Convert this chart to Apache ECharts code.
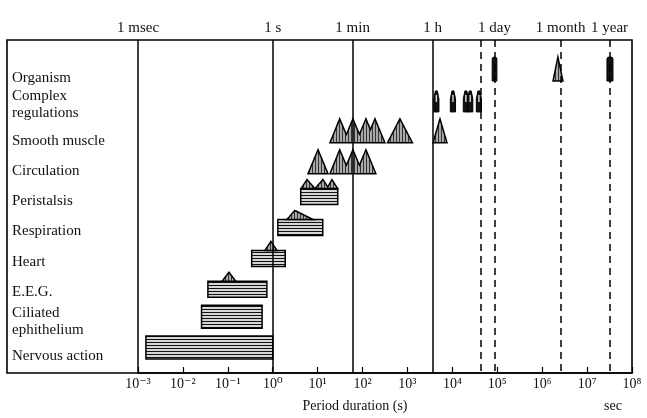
<!DOCTYPE html>
<html>
<head>
<meta charset="utf-8">
<script src="https://cdn.jsdelivr.net/npm/echarts@6/dist/echarts.min.js"></script>
<style>
  html, body { margin: 0; padding: 0; background: #fff; }
  #chart { width: 647px; height: 418px; }
</style>
</head>
<body>
<div id="chart"></div>
<script>
// row labels, top to bottom (row index 0..9)
const labelLines = ['Organism', 'Complex', 'regulations', 'Smooth muscle', 'Circulation', 'Peristalsis',
  'Respiration', 'Heart', 'E.E.G.', 'Ciliated', 'ephithelium', 'Nervous action'];

// period durations in seconds
// striped bands: [from, to, row]
const bands = [
  [4.2, 28, 4],        // peristalsis
  [1.3, 13, 5],        // respiration
  [0.34, 1.9, 6],      // heart
  [0.036, 0.74, 7],    // E.E.G.
  [0.026, 0.58, 8],    // ciliated ephithelium
  [0.0015, 1.0, 9]     // nervous action
];
// small peaks sitting on the bands: [from, peak, to, row]
const bandPeaks = [
  [4.25, 5.8, 8.7, 4], [8.7, 13.1, 17.8, 4], [16.1, 20.8, 28, 4],
  [2.07, 3.1, 7.9, 5],
  [0.67, 0.91, 1.24, 6],
  [0.074, 0.106, 0.151, 7]
];
// triangles: [from, peak, to, row]
const triangles = [
  [1.74e6, 2.24e6, 2.9e6, 0],
  [18.8, 31, 52, 2], [36.6, 61, 102, 2], [71, 119, 198, 2], [113, 189, 315, 2],
  [359, 680, 1290, 2], [3700, 5300, 7600, 2],
  [6.1, 10.2, 17, 3], [18.8, 31, 52, 3], [36.6, 61, 102, 3], [71, 119, 198, 3]
];
// narrow spikes (complex regulations): [period, row]
const spikes = [[4400, 1], [10300, 1], [20000, 1], [25000, 1], [39000, 1]];
// solid blocks (organism): [from, to, row]
const blocks = [[7.7e4, 9.8e4, 0], [2.77e7, 3.77e7, 0]];

// reference periods
const refNames = ['1 msec', '1 s', '1 min', '1 h', '', '1 day', '1 month', '1 year'];
const refTimes = [1e-3, 1, 60, 3600, 43200, 86400, 2.592e6, 3.156e7];

const tickLabels = ['10⁻³', '10⁻²', '10⁻¹', '10⁰', '10¹', '10²', '10³', '10⁴', '10⁵', '10⁶', '10⁷', '10⁸'];

const lg = Math.log10;
const SERIF = '"Liberation Serif", "DejaVu Serif", serif';

function stripes(horizontal, bg, fg, step) {
  const c = document.createElement('canvas');
  c.width = step; c.height = step;
  const g = c.getContext('2d');
  g.fillStyle = bg; g.fillRect(0, 0, step, step);
  g.fillStyle = fg;
  if (horizontal) g.fillRect(0, 0, step, 1); else g.fillRect(0, 0, 1, step);
  return { image: c, repeat: 'repeat' };
}
const bandFill = stripes(true, '#d6d6d6', '#111', 3);
const triFill = stripes(false, '#a8a8a8', '#333', 3);

// upper outline of overlapping triangles, split into separate runs
function envelope(list, api, baseY, h) {
  const t = list.map(d => [api.coord([lg(d[0]), 0])[0], api.coord([lg(d[1]), 0])[0], api.coord([lg(d[2]), 0])[0]])
    .sort((u, v) => u[0] - v[0]);
  const runs = [];
  t.forEach(s => {
    const last = runs[runs.length - 1];
    if (last && s[0] <= last.end + 0.5) { last.items.push(s); last.end = Math.max(last.end, s[2]); }
    else runs.push({ start: s[0], end: s[2], items: [s] });
  });
  return runs.map(run => {
    const xs = [];
    for (let x = run.start; x <= run.end; x += 0.5) xs.push(x);
    run.items.forEach(s => xs.push(s[0], s[1], s[2]));
    xs.sort((a, b) => a - b);
    const pts = [[run.start, baseY]];
    xs.forEach(x => {
      let y = 0;
      run.items.forEach(s => {
        if (x >= s[0] && x <= s[1]) y = Math.max(y, (x - s[0]) / Math.max(s[1] - s[0], 0.01) * h);
        else if (x > s[1] && x <= s[2]) y = Math.max(y, (s[2] - x) / Math.max(s[2] - s[1], 0.01) * h);
      });
      pts.push([x, baseY - y]);
    });
    pts.push([run.end, baseY]);
    return pts;
  });
}

function groupRenderer(list, baseOffset, h) {
  return (params, api) => {
    const row = api.value(3);
    if (list.findIndex(d => d[3] === row) !== params.dataIndex) return;
    const cy = api.coord([0, row])[1];
    const polys = envelope(list.filter(d => d[3] === row), api, cy + baseOffset, h);
    return {
      type: 'group',
      children: polys.map(pts => ({
        type: 'polygon', shape: { points: pts },
        style: { fill: triFill, stroke: '#000', lineWidth: 1.5, lineJoin: 'miter' }
      }))
    };
  };
}

const chart = echarts.init(document.getElementById('chart'), null, { renderer: 'canvas' });

const labelY = [78, 96, 113, 141, 171, 201, 231, 262, 292, 313, 330, 356];

const option = {
  backgroundColor: '#fff',
  animation: false,
  grid: { left: 138, right: 15, top: 40, bottom: 45 },
  xAxis: {
    type: 'value', min: -3, max: 8, interval: 1,
    axisLine: { onZero: false, lineStyle: { color: '#000', width: 1.5 } },
    axisTick: { inside: true, length: 6, lineStyle: { color: '#000', width: 1.2 } },
    splitLine: { show: false },
    axisLabel: {
      formatter: v => tickLabels[Math.round(v) + 3],
      fontFamily: SERIF, fontSize: 14, color: '#111', margin: 4
    }
  },
  yAxis: { type: 'value', inverse: true, min: -0.94, max: 9.84, show: false },
  graphic: [
    { type: 'rect', z: 10, shape: { x: 7, y: 40, width: 625, height: 333 },
      style: { fill: 'none', stroke: '#000', lineWidth: 1.6 } },
    ...labelLines.map((t, i) => ({
      type: 'text', x: 12, y: labelY[i], z: 10,
      style: { text: t, fontFamily: SERIF, fontSize: 15, fill: '#111', verticalAlign: 'middle' }
    })),
    { type: 'text', x: 355, y: 406, z: 10,
      style: { text: 'Period duration (s)', fontFamily: SERIF, fontSize: 14, fill: '#111', align: 'center', verticalAlign: 'middle' } },
    { type: 'text', x: 613, y: 406, z: 10,
      style: { text: 'sec', fontFamily: SERIF, fontSize: 14, fill: '#111', align: 'center', verticalAlign: 'middle' } }
  ],
  series: [
    {
      type: 'custom', name: 'bands',
      data: bands.map(d => [lg(d[0]), lg(d[1]), d[2]]),
      encode: { x: [0, 1], y: 2 },
      renderItem: (params, api) => {
        const row = api.value(2);
        const a = api.coord([api.value(0), row]), b = api.coord([api.value(1), row]);
        const peaked = bandPeaks.some(q => q[3] === row);
        const top = a[1] + (peaked ? -4 : -11), bottom = a[1] + 12;
        return {
          type: 'rect',
          shape: { x: a[0], y: top, width: b[0] - a[0], height: bottom - top },
          style: { fill: bandFill, stroke: '#000', lineWidth: 1.5 }
        };
      }
    },
    {
      type: 'custom', name: 'bandPeaks',
      data: bandPeaks.map(d => [lg(d[0]), lg(d[1]), lg(d[2]), d[3]]),
      encode: { x: [0, 1, 2], y: 3 },
      renderItem: groupRenderer(bandPeaks, -4, 9)
    },
    {
      type: 'custom', name: 'triangles',
      data: triangles.map(d => [lg(d[0]), lg(d[1]), lg(d[2]), d[3]]),
      encode: { x: [0, 1, 2], y: 3 },
      renderItem: groupRenderer(triangles, 12, 24)
    },
    {
      type: 'custom', name: 'spikes',
      data: spikes.map(d => [lg(d[0]), d[1]]),
      encode: { x: 0, y: 1 },
      renderItem: (params, api) => {
        const p = api.coord([api.value(0), api.value(1)]);
        const x = p[0], base = p[1] + 12;
        return {
          type: 'group',
          children: [
            { type: 'polygon',
              shape: { points: [[x - 2.6, base], [x - 2.6, base - 13], [x - 1, base - 21], [x + 1, base - 21], [x + 2.6, base - 13], [x + 2.6, base]] },
              style: { fill: '#111', stroke: '#000', lineWidth: 1 } },
            { type: 'rect', shape: { x: x - 0.7, y: base - 17, width: 1.4, height: 7 }, style: { fill: '#ddd' } }
          ]
        };
      }
    },
    {
      type: 'custom', name: 'blocks',
      data: blocks.map(d => [lg(d[0]), lg(d[1]), d[2]]),
      encode: { x: [0, 1], y: 2 },
      renderItem: (params, api) => {
        const a = api.coord([api.value(0), api.value(2)]), b = api.coord([api.value(1), api.value(2)]);
        return {
          type: 'rect',
          shape: { x: a[0], y: a[1] - 12, width: b[0] - a[0], height: 24, r: [2, 2, 0, 0] },
          style: { fill: '#111', stroke: '#000', lineWidth: 1 }
        };
      }
    },
    {
      type: 'line', name: 'ref', data: [], z: 5,
      markLine: {
        silent: true, symbol: ['none', 'none'], animation: false,
        label: { position: 'start', formatter: '{b}', fontFamily: SERIF, fontSize: 15, color: '#111', distance: 4 },
        data: refTimes.map((t, i) => ({
          name: refNames[i], xAxis: lg(t),
          lineStyle: { color: '#000', width: 1.5, type: t >= 43200 ? [7, 5] : 'solid' }
        }))
      }
    }
  ]
};
chart.setOption(option);
</script>
</body>
</html>
